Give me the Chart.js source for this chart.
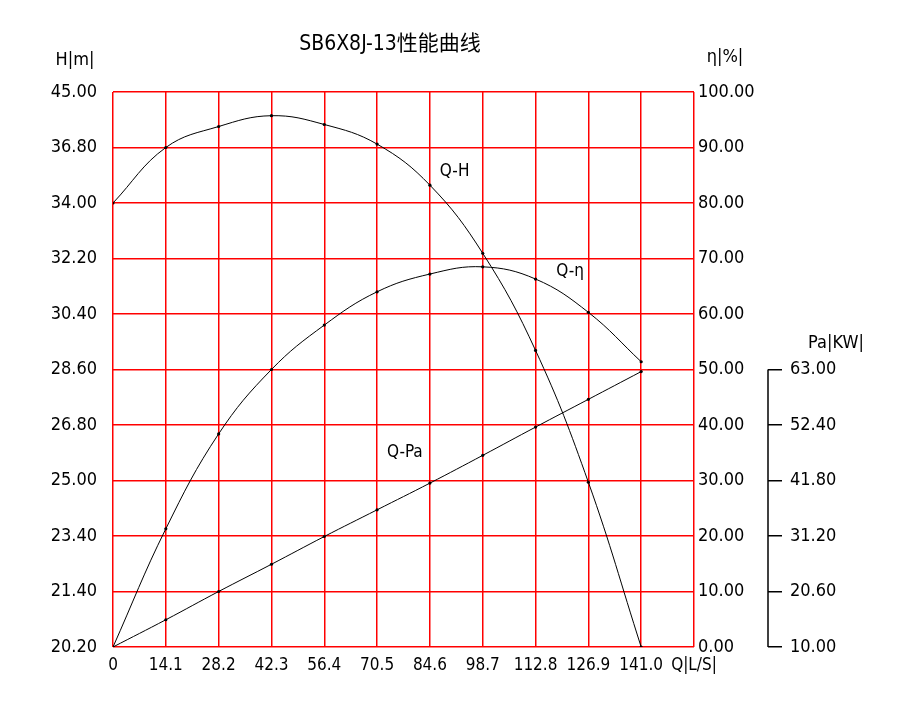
<!DOCTYPE html>
<html>
<head>
<meta charset="utf-8">
<script src="https://cdn.jsdelivr.net/npm/chart.js@4"></script>
<style>html,body{margin:0;background:#fff}</style>
</head>
<body>
<canvas id="grafico" width="909" height="701"></canvas>
<script>
// datos
var caudal = [0, 14.1, 28.2, 42.3, 56.4, 70.5, 84.6, 98.7, 112.8, 126.9, 141.0];
var altura = [34.0, 36.8, 39.9, 41.5, 40.2, 37.3, 34.9, 32.37, 29.22, 24.95, 20.2];
var eficiencia = [0, 21.3, 38.4, 50.0, 58.0, 64.0, 67.2, 68.5, 66.3, 60.3, 51.4];
var potencia = [10, 15.2, 20.6, 25.8, 31.1, 36.2, 41.3, 46.6, 52.0, 57.3, 62.6];
var etiquetasH = ['45.00', '36.80', '34.00', '32.20', '30.40', '28.60', '26.80', '25.00', '23.40', '21.40', '20.20'];
var ticksPa = [10, 20.6, 31.2, 41.8, 52.4, 63];

var fuente = "'DejaVu Sans Condensed', 'Liberation Sans Narrow', 'DejaVu Sans', sans-serif";
var rojo = '#ff0000';

// la escala H no es lineal: se pasa a posicion de rejilla (0 abajo, 10 arriba)
function posH(h) {
  var v = etiquetasH.map(Number);
  for (var i = 0; i < v.length - 1; i++) {
    if (h <= v[i] && h >= v[i + 1]) return (10 - i) - (v[i] - h) / (v[i] - v[i + 1]);
  }
  return 0;
}

function serie(ys) {
  return caudal.map(function (q, i) { return { x: q, y: ys[i] }; });
}

var textos = {
  id: 'textos',
  afterDraw: function (chart) {
    var c = chart.ctx, s = chart.scales;
    c.save();
    c.fillStyle = '#000';
    c.textBaseline = 'middle';
    c.textAlign = 'center';
    c.font = "21px " + fuente + ", 'Noto Sans CJK SC'";
    c.fillText('SB6X8J-13性能曲线', 390, 45);
    c.font = '18px ' + fuente;
    c.fillText('H|m|', 75, 60);
    c.fillText('η|%|', 725, 57);
    c.fillText('Pa|KW|', 836, 343);
    c.font = '17px ' + fuente;
    c.fillText('Q-H', s.x.getPixelForValue(91.2), s.yEta.getPixelForValue(85.6));
    c.fillText('Q-η', s.x.getPixelForValue(122.0), s.yEta.getPixelForValue(67.6));
    c.fillText('Q-Pa', s.x.getPixelForValue(77.9), s.yEta.getPixelForValue(35.0));
    // eje de potencia, solo entre 10 y 63
    var pa = s.yPa;
    c.strokeStyle = '#000';
    c.lineWidth = 1.5;
    c.beginPath();
    c.moveTo(pa.left, pa.getPixelForValue(ticksPa[0]));
    c.lineTo(pa.left, pa.getPixelForValue(ticksPa[ticksPa.length - 1]));
    c.stroke();
    c.restore();
  }
};

var estiloLinea = {
  borderColor: '#000',
  borderWidth: 1,
  pointRadius: 1.6,
  pointBackgroundColor: '#000',
  pointBorderWidth: 0,
  tension: 0.4,
  fill: false
};

new Chart(document.getElementById('grafico'), {
  type: 'line',
  data: {
    datasets: [
      Object.assign({ label: 'Q-H', data: serie(altura.map(posH)), yAxisID: 'yH' }, estiloLinea),
      Object.assign({ label: 'Q-η', data: serie(eficiencia), yAxisID: 'yEta' }, estiloLinea),
      Object.assign({ label: 'Q-Pa', data: serie(potencia), yAxisID: 'yPa' }, estiloLinea)
    ]
  },
  options: {
    responsive: false,
    devicePixelRatio: 1,
    animation: false,
    layout: { padding: { top: 92, left: 0, right: 0, bottom: 0 } },
    plugins: { legend: { display: false }, tooltip: { enabled: false }, title: { display: false } },
    scales: {
      x: {
        type: 'linear', min: 0, max: 155.1,
        afterBuildTicks: function (ax) {
          ax.ticks = caudal.concat([155.1]).map(function (v) { return { value: v }; });
        },
        afterFit: function (ax) { ax.height = 54; },
        ticks: {
          autoSkip: false, maxRotation: 0, padding: 8, color: '#000',
          font: { family: fuente, size: 17 },
          callback: function (v, i) {
            if (i >= caudal.length) return 'Q|L/S|';
            return caudal[i] === 0 ? '0' : caudal[i].toFixed(1);
          }
        },
        grid: { color: rojo, lineWidth: 1.5, drawTicks: false },
        border: { display: false }
      },
      yH: {
        type: 'linear', position: 'left', min: 0, max: 10,
        afterBuildTicks: function (ax) {
          ax.ticks = etiquetasH.map(function (e, i) { return { value: 10 - i }; });
        },
        afterFit: function (ax) { ax.width = 113; },
        ticks: {
          padding: 16, color: '#000', font: { family: fuente, size: 18 },
          callback: function (v) { return etiquetasH[10 - Math.round(v)]; }
        },
        grid: { drawOnChartArea: false, drawTicks: false },
        border: { display: false }
      },
      yEta: {
        type: 'linear', position: 'right', min: 0, max: 100, weight: 0,
        afterFit: function (ax) { ax.width = 74; },
        ticks: {
          stepSize: 10, padding: 4, color: '#000', font: { family: fuente, size: 18 },
          callback: function (v) { return v.toFixed(2); }
        },
        grid: { color: rojo, lineWidth: 1.5, drawTicks: false },
        border: { display: false }
      },
      yPa: {
        type: 'linear', position: 'right', min: 10, max: 116, weight: 1,
        afterBuildTicks: function (ax) {
          ax.ticks = ticksPa.map(function (v) { return { value: v }; });
        },
        afterFit: function (ax) { ax.width = 141; },
        ticks: {
          padding: 8, color: '#000', font: { family: fuente, size: 18 },
          callback: function (v) { return v.toFixed(2); }
        },
        grid: { drawOnChartArea: false, drawTicks: true, tickLength: 14, color: '#000', lineWidth: 1.5 },
        border: { display: false }
      }
    }
  },
  plugins: [textos]
});
</script>
</body>
</html>
